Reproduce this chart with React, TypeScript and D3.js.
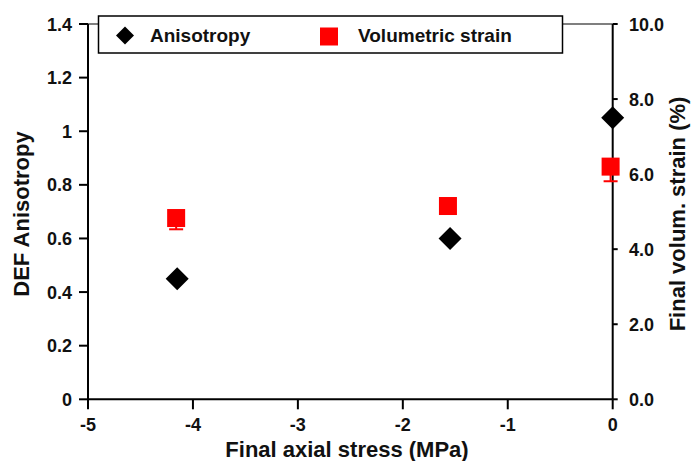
import React from "react";
import * as d3 from "d3";

const stress = [-4.15, -1.55, 0];
const anisotropy = [0.45, 0.6, 1.05];
const strainX = [-4.16, -1.57, -0.02];
const strain = [4.83, 5.15, 6.2];
const strainErrLow = [0.3, 0.15, 0.39];
const strainErrHigh = [0.15, 0.1, 0.15];
const xTicks = [-5, -4, -3, -2, -1, 0];
const yLeftTicks = [0, 0.2, 0.4, 0.6, 0.8, 1, 1.2, 1.4];
const yRightTicks = [0, 2, 4, 6, 8, 10];

const W = 694, H = 461;
const L = 88, R = 612.7, T = 24, B = 399.3;
const FONT = "'Liberation Sans', Arial, Helvetica, sans-serif";

export default function App() {
  const x = d3.scaleLinear().domain([-5, 0]).range([L, R]);
  const yL = d3.scaleLinear().domain([0, 1.4]).range([B, T]);
  const yR = d3.scaleLinear().domain([0, 10]).range([B, T]);
  const diamond = (cx: number, cy: number, r: number) =>
    `M${cx},${cy - r}L${cx + r},${cy}L${cx},${cy + r}L${cx - r},${cy}Z`;
  const sq = 18;
  return (
    <svg width={W} height={H} style={{ position: "absolute", left: 0, top: 0, background: "#fff" }} fontFamily={FONT} fontWeight="bold">
      {/* frame lines */}
      <line x1={L} x2={R} y1={T} y2={T} stroke="#000" strokeWidth={1.2} />
      <line x1={L} x2={L} y1={T} y2={B} stroke="#000" strokeWidth={2} />
      <line x1={R} x2={R} y1={T} y2={B} stroke="#000" strokeWidth={2} />
      <line x1={L} x2={R} y1={B} y2={B} stroke="#000" strokeWidth={2} />
      {/* bottom ticks */}
      {xTicks.map((t) => (
        <g key={"x" + t}>
          <line x1={x(t)} x2={x(t)} y1={B} y2={B + 10} stroke="#000" strokeWidth={2} />
          <text x={x(t)} y={431} textAnchor="middle" fontSize={18} fill="#111">{String(t)}</text>
        </g>
      ))}
      {/* left ticks */}
      {yLeftTicks.map((t) => (
        <g key={"l" + t}>
          <line x1={L - 9} x2={L} y1={yL(t)} y2={yL(t)} stroke="#000" strokeWidth={2} />
          <text x={72} y={yL(t) + 6.5} textAnchor="end" fontSize={18} fill="#111">{String(+t.toFixed(1))}</text>
        </g>
      ))}
      {/* right ticks */}
      {yRightTicks.map((t) => (
        <g key={"r" + t}>
          <line x1={R} x2={R + 5} y1={yR(t)} y2={yR(t)} stroke="#000" strokeWidth={2} />
          <text x={629} y={yR(t) + 6.5} textAnchor="start" fontSize={18} fill="#111">{t.toFixed(1)}</text>
        </g>
      ))}
      {/* axis titles */}
      <text x={347} y={457} textAnchor="middle" fontSize={22} fill="#111">Final axial stress (MPa)</text>
      <text transform={`translate(29,214) rotate(-90)`} textAnchor="middle" fontSize={22} fill="#111">DEF Anisotropy</text>
      <text transform={`translate(685,214) rotate(-90)`} textAnchor="middle" fontSize={22} fill="#111">Final volum. strain (%)</text>
      {/* legend */}
      <rect x={98.5} y={16} width={464} height={37} fill="#fff" stroke="#000" strokeWidth={1.5} />
      <path d={diamond(125, 35.5, 9)} fill="#000" />
      <text x={150} y={42} fontSize={19} fill="#111">Anisotropy</text>
      <rect x={320} y={27.5} width={18} height={18} fill="#ff0000" />
      <text x={358} y={42} fontSize={19} fill="#111">Volumetric strain</text>
      {/* strain error bars */}
      {strain.map((v, i) => (
        <g key={"e" + i} stroke="#ff0000" strokeWidth={2}>
          <line x1={x(strainX[i])} x2={x(strainX[i])} y1={yR(v - strainErrLow[i])} y2={yR(v + strainErrHigh[i])} />
          <line x1={x(strainX[i]) - 7} x2={x(strainX[i]) + 7} y1={yR(v - strainErrLow[i])} y2={yR(v - strainErrLow[i])} />
          <line x1={x(strainX[i]) - 7} x2={x(strainX[i]) + 7} y1={yR(v + strainErrHigh[i])} y2={yR(v + strainErrHigh[i])} />
        </g>
      ))}
      {strain.map((v, i) => (
        <rect key={"s" + i} x={x(strainX[i]) - sq / 2} y={yR(v) - sq / 2} width={sq} height={sq} fill="#ff0000" />
      ))}
      {anisotropy.map((v, i) => (
        <path key={"d" + i} d={diamond(x(stress[i]), yL(v), 11.5)} fill="#000" />
      ))}
    </svg>
  );
}
